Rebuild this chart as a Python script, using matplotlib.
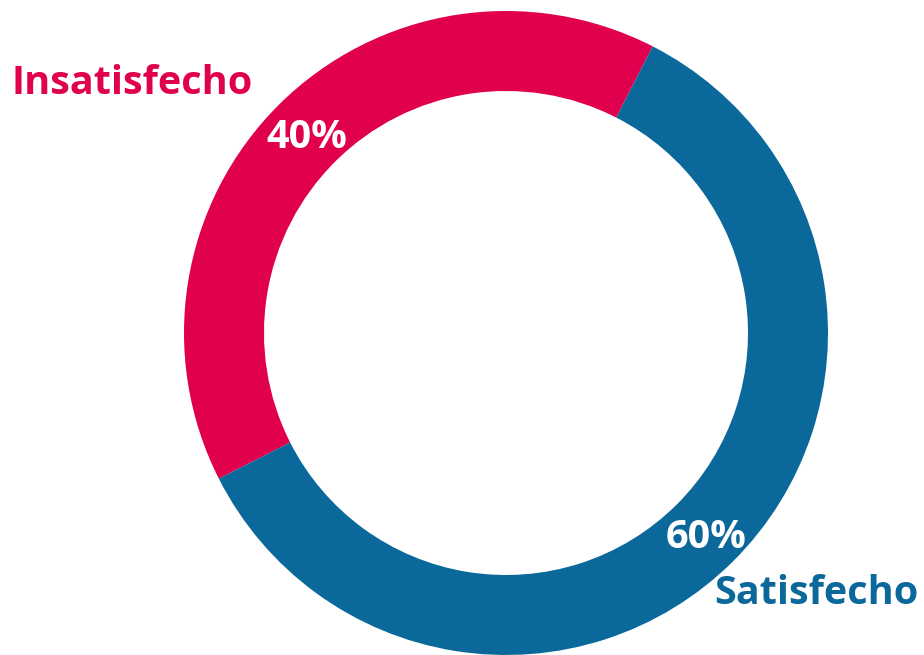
import matplotlib
matplotlib.use("Agg")
import matplotlib.pyplot as plt

labels = ["Insatisfecho", "Satisfecho"]
values = [40, 60]
pct_labels = ["40%", "60%"]
colors = ["#E0004D", "#0B689B"]

W, H = 924, 655
fig = plt.figure(figsize=(W / 100, H / 100), dpi=100)
ax = fig.add_axes([0, 0, 1, 1])

cx, cy = 506, H - 333
R = 322
ax.pie(values, colors=colors, startangle=62.9, counterclock=True,
       center=(cx, cy), radius=R,
       wedgeprops=dict(width=R - 242, linewidth=0))
ax.set_xlim(0, W)
ax.set_ylim(0, H)
ax.set_aspect("equal")
ax.axis("off")

font = "Open Sans"
size = 28.5
ax.text(132, H - 83, labels[0], color=colors[0], fontsize=size, fontweight="bold",
        family=font, ha="center", va="center")
ax.text(816, H - 593, labels[1], color=colors[1], fontsize=size, fontweight="bold",
        family=font, ha="center", va="center")
ax.text(307, H - 137, pct_labels[0], color="white", fontsize=size, fontweight="bold",
        family=font, ha="center", va="center")
ax.text(706, H - 537, pct_labels[1], color="white", fontsize=size, fontweight="bold",
        family=font, ha="center", va="center")

fig.savefig("out.png", dpi=100)
